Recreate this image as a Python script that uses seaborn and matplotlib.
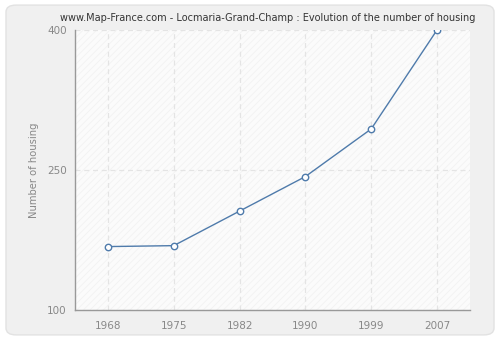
import matplotlib
matplotlib.use("Agg")
import matplotlib.pyplot as plt
import seaborn as sns
import pandas as pd
from matplotlib.patches import FancyBboxPatch, Rectangle

years = ["1968", "1975", "1982", "1990", "1999", "2007"]
housing = [168, 169, 206, 243, 294, 400]
y_ticks = [100, 250, 400]
title = "www.Map-France.com - Locmaria-Grand-Champ : Evolution of the number of housing"

sns.set_theme(style="white")
plt.rcParams["font.family"] = ["DejaVu Sans"]
plt.rcParams["hatch.linewidth"] = 0.5

df = pd.DataFrame({"year": years, "housing": housing})

fig = plt.figure(figsize=(5, 3.4), dpi=100)
fig.patch.set_facecolor("white")
fig.patches.append(FancyBboxPatch((0.012, 0.015), 0.976, 0.97,
                                  boxstyle="round,pad=0,rounding_size=0.02",
                                  transform=fig.transFigure, facecolor="#f0f0f0",
                                  edgecolor="#e2e2e2", linewidth=1.0, zorder=-10))

ax = fig.add_axes([0.15, 0.088, 0.79, 0.824])
ax.set_facecolor("#fbfbfb")
ax.add_patch(Rectangle((0, 0), 1, 1, transform=ax.transAxes, facecolor="none",
                       edgecolor="#f1f1f1", hatch="/////", linewidth=0, zorder=0))

sns.lineplot(data=df, x="year", y="housing", ax=ax, color="#4f7bab", linewidth=1.0,
             marker="o", markersize=4.6, markerfacecolor="white",
             markeredgecolor="#4f7bab", markeredgewidth=1.0, zorder=3)

ax.set_xlim(-0.5, 5.5)
ax.set_ylim(100, 400)
ax.set_yticks(y_ticks)
ax.set_xlabel("")
ax.set_ylabel("Number of housing", color="#888888", fontsize=7.2, labelpad=6)

ax.grid(True, color="#e4e4e4", linestyle=(0, (4, 3)), linewidth=0.9)
ax.set_axisbelow(True)

for side in ["top", "right"]:
    ax.spines[side].set_visible(False)
for side in ["left", "bottom"]:
    ax.spines[side].set_color("#999999")
    ax.spines[side].set_linewidth(1.0)

ax.tick_params(axis="both", colors="#999999", labelcolor="#888888", labelsize=7.5,
               length=4, width=1.0, direction="out")
ax.tick_params(axis="x", pad=4)
ax.tick_params(axis="y", pad=2)

fig.text(0.535, 0.947, title, ha="center", va="center", fontsize=7.0, color="#333333")

fig.savefig("out.png", dpi=100)
